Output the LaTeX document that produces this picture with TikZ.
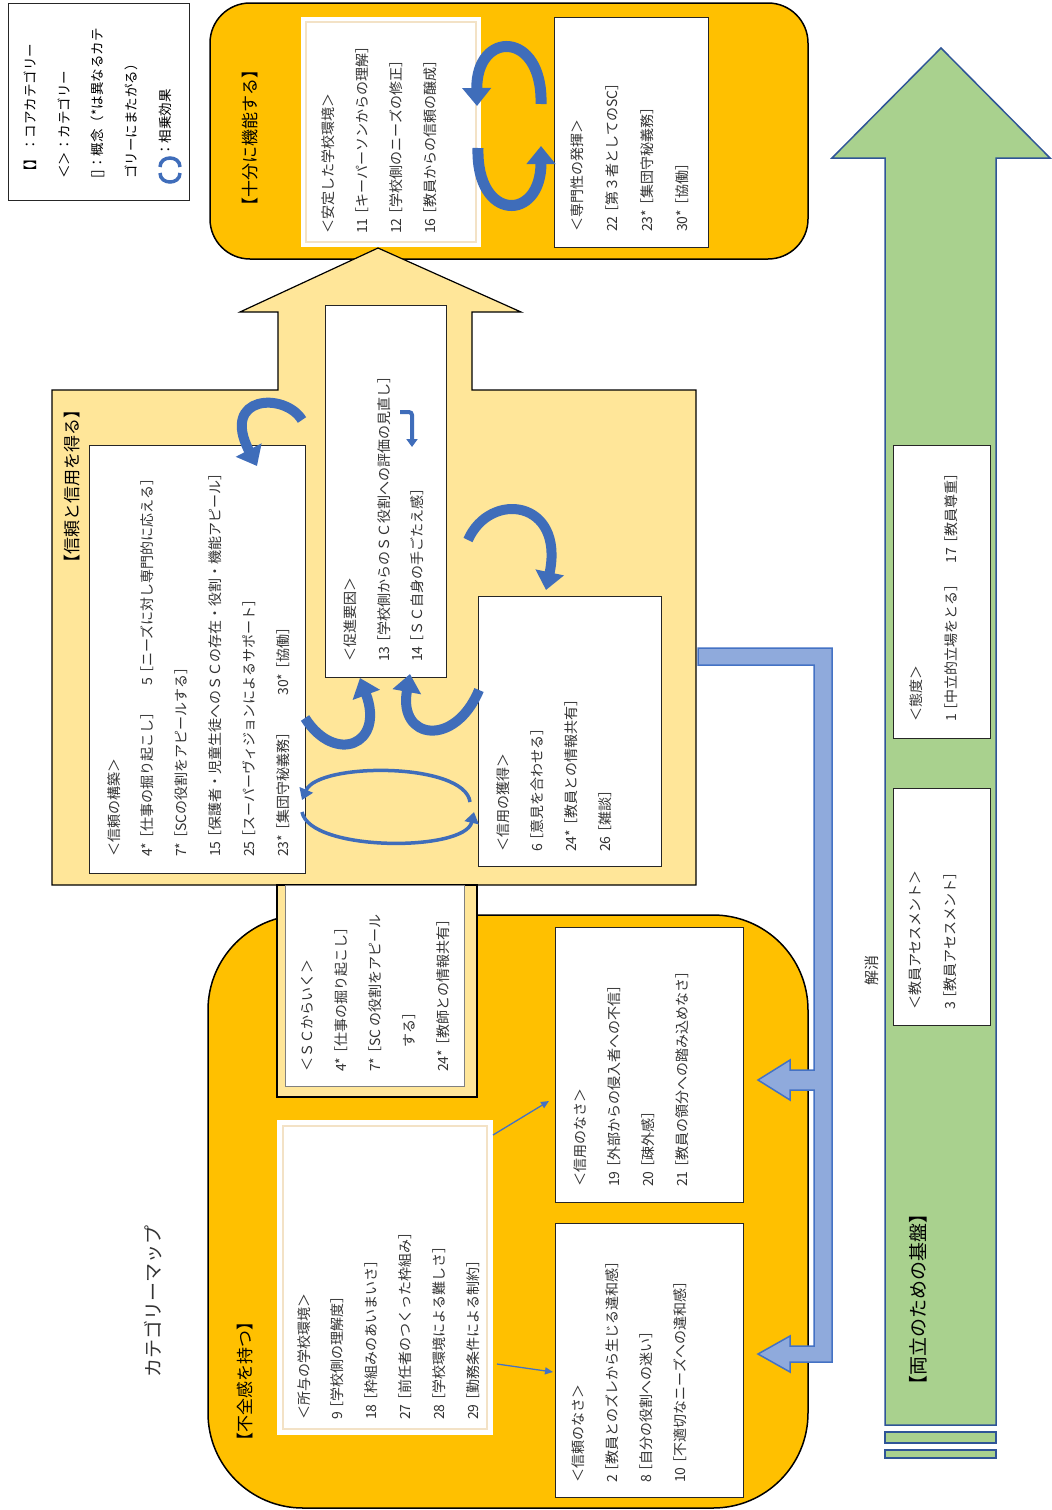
\documentclass[tikz,border=0pt]{standalone}
\usepackage{fontspec}
\setmainfont{Noto Sans CJK JP}
\usetikzlibrary{arrows.meta}
\definecolor{orangefill}{HTML}{FFC000}
\definecolor{paleyellow}{HTML}{FFE699}
\definecolor{arrowblue}{HTML}{3F6DBA}
\definecolor{linkblue}{HTML}{4472C4}
\definecolor{barfill}{HTML}{8FAADC}
\definecolor{greenfill}{HTML}{A9D18E}
\definecolor{edgeblue}{HTML}{2F5597}
\definecolor{txtgray}{HTML}{333333}
\definecolor{tanline}{HTML}{F3E2C6}
\definecolor{boxline}{HTML}{262626}
% opening bracket pulled closer to the number before it
\newcommand{\opbr}{\kern-3pt［}

\begin{document}
\begin{tikzpicture}[x=1pt,y=-1pt,
  orangebox/.style={fill=orangefill, draw=black, line width=1.5pt},
  paleshape/.style={fill=paleyellow, draw=black, line width=1.2pt},
  wbox/.style={draw=boxline, fill=white, line width=0.9pt, inner sep=0pt, outer sep=0pt, anchor=north west},
  plainbox/.style={fill=white, inner sep=0pt, outer sep=0pt, anchor=north west},
  tanbox/.style={draw=tanline, line width=1.2pt, inner sep=0pt, outer sep=0pt, anchor=north west},
  boxtext/.style={rotate=90, anchor=north west, inner sep=0pt, align=left, text=txtgray, font=\fontsize{14pt}{34pt}\selectfont},
  legendtext/.style={rotate=90, anchor=north west, inner sep=0pt, align=left, text=black, font=\fontsize{13.5pt}{33.5pt}\selectfont},
  heading/.style={rotate=90, anchor=west, inner sep=0pt, text=black, font=\fontsize{17pt}{20pt}\selectfont},
  swoop/.style={draw=arrowblue, line width=10pt, -{Triangle[width=28pt,length=18pt]}},
  hoop/.style={draw=arrowblue, line width=3.5pt, -{Triangle[width=14pt,length=11pt]}},
  thinlink/.style={draw=linkblue, line width=1.3pt, -{Triangle[width=7pt,length=8pt]}},
  connector/.style={fill=barfill, draw=linkblue, line width=1.5pt},
  greenshape/.style={fill=greenfill, draw=edgeblue, line width=1.5pt}]

\useasboundingbox (0,0) rectangle (1052,1510);

% ---------- legend ----------
\node[wbox, minimum width=181pt, minimum height=197pt] (legend) at (8,3) {};
\node[legendtext] (legtext) at (24,179) {【】：コアカテゴリー\\＜＞：カテゴリー\\{}[]：概念（*は異なるカテ\\ゴリーにまたがる）};
\node[rotate=90, anchor=west, inner sep=0pt, font=\fontsize{13.5pt}{16pt}\selectfont] (legsyn) at (165,157) {：相乗効果};
\draw[draw=arrowblue, line width=3.5pt] (160,167) .. controls (160,155) and (180,155) .. (180,167);
\draw[draw=arrowblue, line width=3.5pt] (160,173) .. controls (160,185) and (180,185) .. (180,173);

% ---------- large shapes ----------
\draw[orangebox, rounded corners=40pt] (210,3) rectangle (808,259);
\draw[orangebox, rounded corners=95pt] (208,915) rectangle (808,1508);

\draw[paleshape] (52,390) -- (278,390) -- (278,312) -- (240,312) -- (378,248) -- (521,312)
  -- (472,312) -- (472,390) -- (696,390) -- (696,885) -- (52,885) -- cycle;
\draw[paleshape] (277,885) rectangle (477,1097);

% connector band with two block arrows
\draw[connector] (698,648) -- (832,648) -- (832,1362) -- (790,1362) -- (790,1372) -- (758,1354)
  -- (790,1336) -- (790,1346) -- (814,1346) -- (814,1090) -- (790,1090) -- (790,1100)
  -- (758,1080) -- (790,1060) -- (790,1070) -- (814,1070) -- (814,665) -- (698,665) -- cycle;

% green upward arrow and base stripes
\draw[greenshape] (885,1425) -- (885,158) -- (832,158) -- (941,48) -- (1050,158) -- (996,158) -- (996,1425) -- cycle;
\draw[greenshape] (885,1432) rectangle (996,1443);
\draw[greenshape] (885,1450) rectangle (996,1458);

% ---------- white boxes ----------
\node[plainbox, minimum width=180pt, minimum height=230pt] (stable) at (301,17) {};
\node[tanbox, minimum width=170pt, minimum height=220pt] (stablein) at (306,22) {};
\node[wbox, minimum width=154pt, minimum height=230pt] (expert) at (554,17) {};
\node[wbox, minimum width=216pt, minimum height=428pt] (trustbuild) at (89,445) {};
\node[wbox, minimum width=121pt, minimum height=372pt] (promote) at (325,305) {};
\node[wbox, minimum width=183pt, minimum height=270pt] (credgain) at (478,596) {};
\node[wbox, draw=gray, minimum width=179pt, minimum height=201pt] (scgo) at (285,885) {};
\node[plainbox, minimum width=216pt, minimum height=315pt] (given) at (277,1120) {};
\node[tanbox, minimum width=204pt, minimum height=303pt] (givenin) at (283,1126) {};
\node[wbox, minimum width=188pt, minimum height=275pt] (nocred) at (555,927) {};
\node[wbox, minimum width=188pt, minimum height=274pt] (notrust) at (555,1223) {};
\node[wbox, minimum width=97pt, minimum height=293pt] (attitude) at (893,445) {};
\node[wbox, minimum width=97pt, minimum height=237pt] (assess) at (893,788) {};

% ---------- headings ----------
\node[heading] (hfunc) at (250,215) {【十分に機能する】};
\node[heading] (hgain) at (72,572) {【信頼と信用を得る】};
\node[heading] (hlack) at (245,1450) {【不全感を持つ】};
\node[heading, font=\fontsize{19pt}{22pt}\selectfont] (hbase) at (918,1395) {【両立のための基盤】};
\node[heading, text=txtgray, font=\fontsize{19pt}{22pt}\selectfont] (maptitle) at (153,1378) {カテゴリーマップ};
\node[rotate=90, inner sep=0pt, text=txtgray, font=\fontsize{15pt}{18pt}\selectfont] (resolve) at (872,970) {解消};

% ---------- box texts ----------
\node[boxtext] (tstable) at (321,234) {＜安定した学校環境＞\\11\opbr キーパーソンからの理解］\\12\opbr 学校側のニーズの修正］\\16\opbr 教員からの信頼の醸成］};
\node[boxtext, font=\fontsize{14pt}{35pt}\selectfont] (texpert) at (571,232) {＜専門性の発揮＞\\22\opbr 第３者としてのSC］\\23*\opbr 集団守秘義務］\\30*\opbr 協働］};
\node[boxtext, font=\fontsize{14pt}{33.8pt}\selectfont] (ttrust) at (107,857) {＜信頼の構築＞\\4*\opbr 仕事の掘り起こし］\hspace{20pt}5\opbr ニーズに対し専門的に応える］\\7*\opbr SCの役割をアピールする］\\15\opbr 保護者・児童生徒へのＳＣの存在・役割・機能アピール］\\25\opbr スーパーヴィジョンによるサポート］\\23*\opbr 集団守秘義務］\hspace{30pt}30*\opbr 協働］};
\node[boxtext, font=\fontsize{14pt}{33.5pt}\selectfont] (tpromote) at (344,662) {＜促進要因＞\\13\opbr 学校側からのＳＣ役割への評価の見直し］\\14\opbr ＳＣ自身の手ごたえ感］};
\node[boxtext] (tcred) at (497,852) {＜信用の獲得＞\\6\opbr 意見を合わせる］\\24*\opbr 教員との情報共有］\\26\opbr 雑談］};
\node[boxtext] (tscgo) at (301,1072) {＜ＳＣからいく＞\\4*\opbr 仕事の掘り起こし］\\7*\opbr SC の役割をアピール\\\hspace*{24pt}する］\\24*\opbr 教師との情報共有］};
\node[boxtext, font=\fontsize{14pt}{33.8pt}\selectfont] (tgiven) at (297,1420) {＜所与の学校環境＞\\9\opbr 学校側の理解度］\\18\opbr 枠組みのあいまいさ］\\27\opbr 前任者のつくった枠組み］\\28\opbr 学校環境による難しさ］\\29\opbr 勤務条件による制約］};
\node[boxtext] (tnocred) at (574,1187) {＜信用のなさ＞\\19\opbr 外部からの侵入者への不信］\\20\opbr 疎外感］\\21\opbr 教員の領分への踏み込めなさ］};
\node[boxtext] (tnotrust) at (572,1483) {＜信頼のなさ＞\\2\opbr 教員とのズレから生じる違和感］\\8\opbr 自分の役割への迷い］\\10\opbr 不適切なニーズへの違和感］};
\node[boxtext, font=\fontsize{14pt}{35pt}\selectfont] (tattitude) at (909,722) {＜態度＞\\1\opbr 中立的立場をとる］\hspace{14pt}17\opbr 教員尊重］};
\node[boxtext, font=\fontsize{14pt}{35pt}\selectfont] (tassess) at (909,1010) {＜教員アセスメント＞\\3\opbr 教員アセスメント］};

% ---------- synergy arrows ----------
\draw[swoop, line width=11pt] (541,104) .. controls (543,30) and (476,30) .. (477,106);
\draw[swoop, line width=11pt] (478,148) .. controls (476,222) and (541,222) .. (541,146);
\draw[swoop] (302,420) .. controls (285,392) and (220,395) .. (257,466);
\draw[swoop] (468,540) .. controls (490,490) and (565,500) .. (546,590);
\draw[swoop] (305,718) .. controls (335,765) and (385,745) .. (360,678);
\draw[swoop] (479,690) .. controls (455,748) and (398,740) .. (410,674);
\draw[hoop] (470,802) .. controls (465,762) and (318,762) .. (302,800);
\draw[hoop] (302,812) .. controls (310,852) and (465,852) .. (474,812);
\draw[draw=arrowblue, line width=4pt, rounded corners=3pt, -{Triangle[width=11pt,length=8pt]}] (400,412) -- (412,412) -- (412,447);

% ---------- links from the given school environment ----------
\coordinate (gtop) at (493,1135);
\coordinate (gbot) at (497,1364);
\coordinate (ncin) at (549,1101);
\coordinate (ntin) at (553,1372);
\draw[thinlink] (gtop) -- (ncin);
\draw[thinlink] (gbot) -- (ntin);

\end{tikzpicture}
\end{document}
